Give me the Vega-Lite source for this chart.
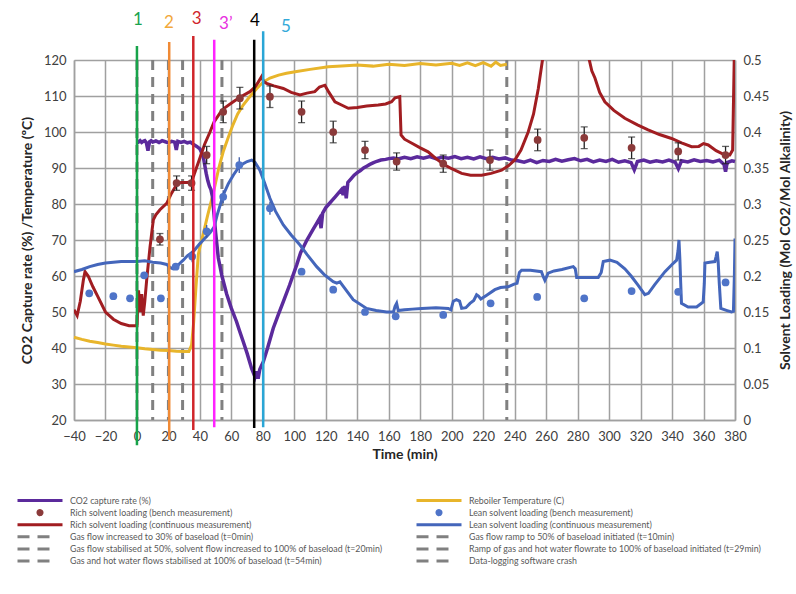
{
  "$schema": "https://vega.github.io/schema/vega-lite/v6.json",
  "autosize": {"type": "none"},
  "width": 661,
  "height": 360,
  "padding": {"left": 74, "top": 60, "right": 61, "bottom": 174},
  "background": "white",
  "config": {
    "font": "Lato",
    "view": {"stroke": null},
    "axis": {"labelFont": "Lato", "labelFontSize": 13, "labelColor": "#404040", "titleFont": "Lato", "titleFontSize": 14, "titleFontWeight": "bold", "titleColor": "#262626", "gridColor": "#a0a0a0", "gridWidth": 1.5, "gridOpacity": 1, "domainColor": "#a0a0a0", "domainWidth": 1.5, "ticks": false, "labelPadding": 8, "labelFlush": false, "labelOverlap": false, "labelBound": false}
  },
  "datasets": {
    "events": [
      {"t": 0, "s": "Gas flow increased to 30% of baseload (t=0min)"},
      {"t": 10, "s": "Gas flow ramp to 50% of baseload initiated (t=10min)"},
      {"t": 20, "s": "Gas flow stabilised at 50%, solvent flow increased to 100% of baseload (t=20min)"},
      {"t": 29, "s": "Ramp of gas and hot water flowrate to 100% of baseload initiated (t=29min)"},
      {"t": 54, "s": "Gas and hot water flows stabilised at 100% of baseload (t=54min)"},
      {"t": 235, "s": "Data-logging software crash"}
    ],
    "reb": [
      {"t": -40, "v": 43}, {"t": -35, "v": 42.4}, {"t": -30, "v": 41.9}, {"t": -25, "v": 41.5}, {"t": -20, "v": 41.1}, {"t": -15, "v": 40.8}, {"t": -10, "v": 40.5}, {"t": -5, "v": 40.3}, {"t": 0, "v": 40.1}, {"t": 5, "v": 39.8}, {"t": 10, "v": 39.6}, {"t": 15, "v": 39.4}, {"t": 20, "v": 39.3}, {"t": 25, "v": 39.1}, {"t": 30, "v": 39.0}, {"t": 33, "v": 39.0}, {"t": 34.7, "v": 40.8}, {"t": 36, "v": 47}, {"t": 37.5, "v": 57}, {"t": 39, "v": 66}, {"t": 40, "v": 68}, {"t": 42, "v": 71.5}, {"t": 45, "v": 77}, {"t": 48.5, "v": 83}, {"t": 52, "v": 90}, {"t": 54.8, "v": 94.5}, {"t": 58, "v": 98.5}, {"t": 61, "v": 102}, {"t": 64, "v": 105}, {"t": 67.5, "v": 107.5}, {"t": 72, "v": 110}, {"t": 76, "v": 112}, {"t": 80, "v": 113.8}, {"t": 84.5, "v": 115}, {"t": 90, "v": 115.8}, {"t": 95, "v": 116.3}, {"t": 101.5, "v": 116.8}, {"t": 110, "v": 117.4}, {"t": 121.6, "v": 118.1}, {"t": 130, "v": 118.3}, {"t": 140, "v": 118.6}, {"t": 150, "v": 118.3}, {"t": 160, "v": 118.8}, {"t": 170, "v": 118.5}, {"t": 180, "v": 119}, {"t": 190, "v": 118.6}, {"t": 200, "v": 119.1}, {"t": 205, "v": 118.5}, {"t": 210, "v": 119.2}, {"t": 215, "v": 118.4}, {"t": 220, "v": 119.3}, {"t": 225, "v": 118.3}, {"t": 228, "v": 119.4}, {"t": 231, "v": 118.5}, {"t": 235, "v": 118.8}
    ],
    "co2": [
      {"t": 0, "v": 97.5}, {"t": 1, "v": 97.2}, {"t": 2, "v": 97.6}, {"t": 3, "v": 97.1}, {"t": 4, "v": 97.4}, {"t": 5, "v": 97.6}, {"t": 6, "v": 97.0}, {"t": 7, "v": 94.8}, {"t": 8, "v": 97.3}, {"t": 9, "v": 97.6}, {"t": 10, "v": 97.2}, {"t": 12, "v": 97.5}, {"t": 14, "v": 97.1}, {"t": 16, "v": 97.6}, {"t": 18, "v": 97.3}, {"t": 20, "v": 97.0}, {"t": 22, "v": 97.4}, {"t": 24, "v": 97.2}, {"t": 25, "v": 95.0}, {"t": 26, "v": 97.4}, {"t": 28, "v": 97.1}, {"t": 30, "v": 97.4}, {"t": 32, "v": 97.0}, {"t": 34, "v": 97.2}, {"t": 36, "v": 96.5}, {"t": 38, "v": 96.0}, {"t": 40, "v": 95.3}, {"t": 42, "v": 93.5}, {"t": 43, "v": 91}, {"t": 44, "v": 88.5}, {"t": 45, "v": 86.5}, {"t": 46, "v": 85}, {"t": 47, "v": 84}, {"t": 48, "v": 82}, {"t": 49, "v": 77}, {"t": 50, "v": 72}, {"t": 51.7, "v": 65}, {"t": 54, "v": 60}, {"t": 57, "v": 55}, {"t": 60, "v": 51}, {"t": 63.3, "v": 47.3}, {"t": 65, "v": 45}, {"t": 67.5, "v": 41.8}, {"t": 70, "v": 38.5}, {"t": 72.8, "v": 34.4}, {"t": 75, "v": 32}, {"t": 76, "v": 33.5}, {"t": 77, "v": 31.5}, {"t": 78, "v": 34}, {"t": 80.3, "v": 36.2}, {"t": 83, "v": 40}, {"t": 86.6, "v": 45.5}, {"t": 90, "v": 49.5}, {"t": 93, "v": 52.9}, {"t": 97, "v": 57.5}, {"t": 101.5, "v": 63.1}, {"t": 104, "v": 66.5}, {"t": 108, "v": 70}, {"t": 110, "v": 71.5}, {"t": 112, "v": 73}, {"t": 114, "v": 74.5}, {"t": 116, "v": 76}, {"t": 117, "v": 73.3}, {"t": 118, "v": 77.5}, {"t": 120, "v": 79}, {"t": 122, "v": 80}, {"t": 124, "v": 81}, {"t": 126, "v": 82}, {"t": 128, "v": 83}, {"t": 130, "v": 84}, {"t": 131, "v": 82.5}, {"t": 132, "v": 85}, {"t": 133, "v": 81.6}, {"t": 134, "v": 86}, {"t": 136, "v": 87}, {"t": 138, "v": 88}, {"t": 140, "v": 88.7}, {"t": 142, "v": 89.3}, {"t": 144, "v": 90}, {"t": 146, "v": 90.5}, {"t": 148, "v": 91}, {"t": 150, "v": 91.4}, {"t": 152, "v": 91.8}, {"t": 155, "v": 92.2}, {"t": 158, "v": 92.4}, {"t": 160, "v": 92.6}, {"t": 163, "v": 92.8}, {"t": 166, "v": 92.5}, {"t": 170, "v": 93.0}, {"t": 174, "v": 92.6}, {"t": 178, "v": 93.1}, {"t": 182, "v": 92.7}, {"t": 186, "v": 93.2}, {"t": 190, "v": 92.6}, {"t": 194, "v": 93.0}, {"t": 198, "v": 92.7}, {"t": 202, "v": 93.2}, {"t": 206, "v": 92.6}, {"t": 210, "v": 93.0}, {"t": 214, "v": 92.5}, {"t": 218, "v": 93.1}, {"t": 222, "v": 92.6}, {"t": 226, "v": 93.0}, {"t": 230, "v": 92.5}, {"t": 234, "v": 92.8}, {"t": 238, "v": 92.2}, {"t": 242, "v": 92.0}, {"t": 246, "v": 91.6}, {"t": 250, "v": 92.2}, {"t": 254, "v": 91.5}, {"t": 258, "v": 92.1}, {"t": 262, "v": 91.8}, {"t": 266, "v": 92.4}, {"t": 270, "v": 91.9}, {"t": 274, "v": 92.3}, {"t": 278, "v": 92.6}, {"t": 282, "v": 92.0}, {"t": 286, "v": 92.4}, {"t": 290, "v": 91.7}, {"t": 294, "v": 92.2}, {"t": 298, "v": 91.8}, {"t": 302, "v": 92.4}, {"t": 306, "v": 91.6}, {"t": 310, "v": 92.0}, {"t": 314, "v": 91.5}, {"t": 316, "v": 89.5}, {"t": 318, "v": 91.8}, {"t": 322, "v": 92.2}, {"t": 326, "v": 91.6}, {"t": 330, "v": 92.0}, {"t": 334, "v": 91.7}, {"t": 338, "v": 92.2}, {"t": 342, "v": 91.6}, {"t": 344, "v": 89.8}, {"t": 346, "v": 92.0}, {"t": 350, "v": 91.7}, {"t": 354, "v": 92.3}, {"t": 358, "v": 91.8}, {"t": 362, "v": 92.1}, {"t": 366, "v": 91.7}, {"t": 370, "v": 92.2}, {"t": 373, "v": 91.0}, {"t": 374, "v": 89.0}, {"t": 375, "v": 91.5}, {"t": 378, "v": 92.0}, {"t": 380, "v": 91.8}
    ],
    "richc": [
      {"t": -40, "L": 0.153}, {"t": -38, "L": 0.145}, {"t": -36, "L": 0.165}, {"t": -34, "L": 0.195}, {"t": -33, "L": 0.206}, {"t": -31, "L": 0.2}, {"t": -28, "L": 0.185}, {"t": -25, "L": 0.172}, {"t": -20, "L": 0.15}, {"t": -15, "L": 0.14}, {"t": -10, "L": 0.134}, {"t": -5, "L": 0.131}, {"t": 0, "L": 0.131}, {"t": 0.5, "L": 0.16}, {"t": 1, "L": 0.18}, {"t": 2, "L": 0.15}, {"t": 3, "L": 0.175}, {"t": 4, "L": 0.145}, {"t": 5, "L": 0.165}, {"t": 6.2, "L": 0.195}, {"t": 8.3, "L": 0.24}, {"t": 10.4, "L": 0.278}, {"t": 12, "L": 0.285}, {"t": 14.6, "L": 0.292}, {"t": 18.9, "L": 0.301}, {"t": 22, "L": 0.315}, {"t": 25.2, "L": 0.327}, {"t": 28, "L": 0.33}, {"t": 32, "L": 0.33}, {"t": 34.7, "L": 0.331}, {"t": 37, "L": 0.345}, {"t": 40, "L": 0.364}, {"t": 43, "L": 0.383}, {"t": 46.4, "L": 0.4}, {"t": 49, "L": 0.414}, {"t": 52.7, "L": 0.426}, {"t": 56, "L": 0.434}, {"t": 61.2, "L": 0.442}, {"t": 66, "L": 0.449}, {"t": 71.8, "L": 0.456}, {"t": 75, "L": 0.4625}, {"t": 77, "L": 0.469}, {"t": 79.2, "L": 0.477}, {"t": 80.5, "L": 0.47}, {"t": 82.4, "L": 0.4675}, {"t": 87, "L": 0.464}, {"t": 93, "L": 0.4605}, {"t": 98, "L": 0.455}, {"t": 103.6, "L": 0.4515}, {"t": 108, "L": 0.454}, {"t": 113, "L": 0.456}, {"t": 116, "L": 0.4625}, {"t": 119.4, "L": 0.465}, {"t": 122, "L": 0.455}, {"t": 125.8, "L": 0.442}, {"t": 130, "L": 0.4375}, {"t": 134.3, "L": 0.433}, {"t": 140, "L": 0.434}, {"t": 146, "L": 0.436}, {"t": 153.3, "L": 0.4375}, {"t": 158, "L": 0.439}, {"t": 161.8, "L": 0.442}, {"t": 164, "L": 0.4475}, {"t": 167, "L": 0.449}, {"t": 167.8, "L": 0.396}, {"t": 170, "L": 0.39}, {"t": 175, "L": 0.384}, {"t": 180, "L": 0.378}, {"t": 185, "L": 0.3725}, {"t": 190, "L": 0.363}, {"t": 195.7, "L": 0.354}, {"t": 200, "L": 0.349}, {"t": 206.3, "L": 0.3425}, {"t": 212, "L": 0.34}, {"t": 219, "L": 0.34}, {"t": 225, "L": 0.3425}, {"t": 231.7, "L": 0.347}, {"t": 236, "L": 0.353}, {"t": 240.2, "L": 0.3615}, {"t": 244, "L": 0.375}, {"t": 248.6, "L": 0.4}, {"t": 252, "L": 0.425}, {"t": 255, "L": 0.46}, {"t": 258, "L": 0.505}, {"t": 261, "L": 0.55}, {"t": 265, "L": 0.58}, {"t": 275, "L": 0.6}, {"t": 282, "L": 0.58}, {"t": 286.7, "L": 0.507}, {"t": 289, "L": 0.485}, {"t": 291, "L": 0.475}, {"t": 294, "L": 0.455}, {"t": 297.3, "L": 0.442}, {"t": 303, "L": 0.43}, {"t": 310, "L": 0.419}, {"t": 318, "L": 0.41}, {"t": 324.8, "L": 0.403}, {"t": 332, "L": 0.3965}, {"t": 339.7, "L": 0.391}, {"t": 346, "L": 0.385}, {"t": 352.4, "L": 0.3795}, {"t": 357, "L": 0.38}, {"t": 360, "L": 0.384}, {"t": 363, "L": 0.382}, {"t": 368, "L": 0.374}, {"t": 373.6, "L": 0.368}, {"t": 376.7, "L": 0.368}, {"t": 378.5, "L": 0.375}, {"t": 379.5, "L": 0.5}, {"t": 380, "L": 0.55}
    ],
    "leanc": [
      {"t": -40, "L": 0.206}, {"t": -35, "L": 0.209}, {"t": -30, "L": 0.213}, {"t": -25, "L": 0.216}, {"t": -20, "L": 0.218}, {"t": -10, "L": 0.22}, {"t": 0, "L": 0.22}, {"t": 5, "L": 0.221}, {"t": 10, "L": 0.219}, {"t": 15, "L": 0.218}, {"t": 18.9, "L": 0.216}, {"t": 21, "L": 0.212}, {"t": 23, "L": 0.21}, {"t": 25, "L": 0.212}, {"t": 27, "L": 0.217}, {"t": 29.4, "L": 0.222}, {"t": 32, "L": 0.228}, {"t": 35.8, "L": 0.234}, {"t": 40, "L": 0.245}, {"t": 43, "L": 0.252}, {"t": 46.4, "L": 0.26}, {"t": 49, "L": 0.268}, {"t": 51, "L": 0.285}, {"t": 54.8, "L": 0.3125}, {"t": 58, "L": 0.328}, {"t": 61.2, "L": 0.34}, {"t": 64, "L": 0.349}, {"t": 67.5, "L": 0.356}, {"t": 70, "L": 0.359}, {"t": 72.9, "L": 0.361}, {"t": 75, "L": 0.358}, {"t": 78.1, "L": 0.347}, {"t": 81, "L": 0.33}, {"t": 84.5, "L": 0.308}, {"t": 88, "L": 0.29}, {"t": 93, "L": 0.271}, {"t": 98, "L": 0.257}, {"t": 103.6, "L": 0.243}, {"t": 108, "L": 0.23}, {"t": 114.2, "L": 0.213}, {"t": 119, "L": 0.202}, {"t": 124.7, "L": 0.192}, {"t": 127, "L": 0.19}, {"t": 129, "L": 0.192}, {"t": 131, "L": 0.186}, {"t": 137.4, "L": 0.167}, {"t": 145.9, "L": 0.155}, {"t": 152, "L": 0.152}, {"t": 158.6, "L": 0.15}, {"t": 163, "L": 0.15}, {"t": 164, "L": 0.158}, {"t": 165, "L": 0.162}, {"t": 166, "L": 0.152}, {"t": 170, "L": 0.153}, {"t": 175, "L": 0.154}, {"t": 180.9, "L": 0.155}, {"t": 190, "L": 0.156}, {"t": 197.8, "L": 0.155}, {"t": 199.5, "L": 0.153}, {"t": 201, "L": 0.165}, {"t": 203, "L": 0.167}, {"t": 205, "L": 0.165}, {"t": 206.3, "L": 0.155}, {"t": 209, "L": 0.156}, {"t": 211.6, "L": 0.162}, {"t": 214, "L": 0.166}, {"t": 215.8, "L": 0.174}, {"t": 217, "L": 0.172}, {"t": 218.5, "L": 0.168}, {"t": 222, "L": 0.173}, {"t": 227.4, "L": 0.181}, {"t": 231, "L": 0.184}, {"t": 235.9, "L": 0.185}, {"t": 240, "L": 0.189}, {"t": 241.5, "L": 0.19}, {"t": 243, "L": 0.205}, {"t": 244.4, "L": 0.208}, {"t": 250, "L": 0.208}, {"t": 257, "L": 0.206}, {"t": 258, "L": 0.2}, {"t": 259.2, "L": 0.194}, {"t": 261.3, "L": 0.204}, {"t": 265, "L": 0.207}, {"t": 270, "L": 0.209}, {"t": 277.2, "L": 0.213}, {"t": 278.5, "L": 0.21}, {"t": 279.4, "L": 0.198}, {"t": 285, "L": 0.198}, {"t": 293.1, "L": 0.198}, {"t": 295, "L": 0.205}, {"t": 296.3, "L": 0.22}, {"t": 300.5, "L": 0.222}, {"t": 305, "L": 0.219}, {"t": 310, "L": 0.21}, {"t": 314, "L": 0.2}, {"t": 318.5, "L": 0.187}, {"t": 322.7, "L": 0.174}, {"t": 325, "L": 0.176}, {"t": 329, "L": 0.188}, {"t": 335.5, "L": 0.206}, {"t": 340, "L": 0.216}, {"t": 342.9, "L": 0.222}, {"t": 343.8, "L": 0.235}, {"t": 344.4, "L": 0.25}, {"t": 345, "L": 0.222}, {"t": 345.5, "L": 0.19}, {"t": 346, "L": 0.162}, {"t": 350.2, "L": 0.157}, {"t": 355.6, "L": 0.157}, {"t": 359.8, "L": 0.164}, {"t": 360.5, "L": 0.19}, {"t": 360.9, "L": 0.218}, {"t": 364, "L": 0.219}, {"t": 367.2, "L": 0.22}, {"t": 368, "L": 0.227}, {"t": 368.7, "L": 0.234}, {"t": 369.3, "L": 0.22}, {"t": 370, "L": 0.19}, {"t": 371, "L": 0.155}, {"t": 375, "L": 0.152}, {"t": 377.8, "L": 0.15}, {"t": 379, "L": 0.151}, {"t": 379.6, "L": 0.2}, {"t": 380, "L": 0.252}
    ],
    "richb": [
      {"t": 14.6, "L": 0.251, "lo": 0.243, "hi": 0.259}, {"t": 25.2, "L": 0.329, "lo": 0.319, "hi": 0.339}, {"t": 34.7, "L": 0.329, "lo": 0.319, "hi": 0.339}, {"t": 44.3, "L": 0.368, "lo": 0.356, "hi": 0.38}, {"t": 54.8, "L": 0.428, "lo": 0.413, "hi": 0.443}, {"t": 65.4, "L": 0.447, "lo": 0.432, "hi": 0.462}, {"t": 84.5, "L": 0.449, "lo": 0.434, "hi": 0.464}, {"t": 104.6, "L": 0.428, "lo": 0.413, "hi": 0.443}, {"t": 124.7, "L": 0.4, "lo": 0.385, "hi": 0.415}, {"t": 144.9, "L": 0.375, "lo": 0.363, "hi": 0.387}, {"t": 165, "L": 0.359, "lo": 0.347, "hi": 0.371}, {"t": 194.6, "L": 0.356, "lo": 0.344, "hi": 0.368}, {"t": 224.3, "L": 0.361, "lo": 0.347, "hi": 0.375}, {"t": 254.6, "L": 0.389, "lo": 0.374, "hi": 0.404}, {"t": 284.2, "L": 0.392, "lo": 0.377, "hi": 0.407}, {"t": 314.3, "L": 0.378, "lo": 0.363, "hi": 0.393}, {"t": 343.9, "L": 0.373, "lo": 0.361, "hi": 0.385}, {"t": 374, "L": 0.368, "lo": 0.356, "hi": 0.38}
    ],
    "leanb": [
      {"t": -30.3, "L": 0.176}, {"t": -15, "L": 0.172}, {"t": -4.4, "L": 0.169}, {"t": 4.6, "L": 0.201}, {"t": 15.2, "L": 0.169}, {"t": 24.6, "L": 0.213}, {"t": 35.1, "L": 0.227}, {"t": 44.3, "L": 0.262}, {"t": 54.8, "L": 0.31}, {"t": 65, "L": 0.354}, {"t": 84.5, "L": 0.294}, {"t": 104.6, "L": 0.206}, {"t": 124.7, "L": 0.181}, {"t": 144.9, "L": 0.15}, {"t": 164.4, "L": 0.144}, {"t": 194.6, "L": 0.146}, {"t": 224.7, "L": 0.162}, {"t": 254.3, "L": 0.171}, {"t": 284.2, "L": 0.169}, {"t": 314.3, "L": 0.179}, {"t": 343.9, "L": 0.178}, {"t": 374, "L": 0.191}
    ],
    "leanerr": [
      {"t": 35.1, "lo": 0.219, "hi": 0.235}, {"t": 44.3, "lo": 0.253, "hi": 0.271}, {"t": 54.8, "lo": 0.301, "hi": 0.319}, {"t": 65, "lo": 0.343, "hi": 0.365}, {"t": 84.5, "lo": 0.285, "hi": 0.303}
    ],
    "numbered": [
      {"label": "1", "t": 0, "y1": 13, "y2": 123.9, "tx": 0.6, "ty": 131.1},
      {"label": "2", "t": 20.5, "y1": 14.5, "y2": 125, "tx": 20.3, "ty": 130.3},
      {"label": "3", "t": 35.8, "y1": 17.2, "y2": 126.7, "tx": 38, "ty": 131.4},
      {"label": "3’", "t": 49.1, "y1": 18, "y2": 125.6, "tx": 56.5, "ty": 130},
      {"label": "4", "t": 74.5, "y1": 17.8, "y2": 125.6, "tx": 75, "ty": 130.8},
      {"label": "5", "t": 80.2, "y1": 18, "y2": 128, "tx": 94.7, "ty": 129.2}
    ]
  },
  "layer": [
    {
      "layer": [
        {
          "data": {"name": "events"},
          "mark": {"type": "rule", "strokeDash": [10, 7], "strokeWidth": 3},
          "encoding": {
            "x": {"field": "t", "type": "quantitative", "title": "Time (min)", "scale": {"domain": [-40, 380], "nice": false, "zero": false}, "axis": {"values": [-40, -20, 0, 20, 40, 60, 80, 100, 120, 140, 160, 180, 200, 220, 240, 260, 280, 300, 320, 340, 360, 380], "tickCount": 30, "grid": true, "labelPadding": 10, "titlePadding": 4}},
            "color": {
              "field": "s", "type": "nominal",
              "scale": {
                "domain": ["CO2 capture rate (%)", "Rich solvent loading (bench measurement)", "Rich solvent loading (continuous measurement)", "Gas flow increased to 30% of baseload (t=0min)", "Gas flow stabilised at 50%, solvent flow increased to 100% of baseload (t=20min)", "Gas and hot water flows stabilised at 100% of baseload (t=54min)", "Reboiler Temperature (C)", "Lean solvent loading (bench measurement)", "Lean solvent loading (continuous measurement)", "Gas flow ramp to 50% of baseload initiated (t=10min)", "Ramp of gas and hot water flowrate to 100% of baseload initiated (t=29min)", "Data-logging software crash"],
                "range": ["#5b2a9c", "#8b3a3a", "#a11d21", "#808080", "#808080", "#808080", "#e8b52b", "#4f74c8", "#4466bb", "#808080", "#808080", "#808080"]
              },
              "legend": {
                "title": null, "orient": "none", "legendX": -58, "legendY": 435, "columns": 2, "padding": 0,
                "symbolType": "stroke", "symbolSize": 2025, "symbolStrokeWidth": 3, "symbolOffset": 0,
                "labelFont": "Lato", "labelFontSize": 8.8, "labelColor": "#595959", "labelLimit": 420, "labelOffset": 6,
                "columnPadding": 32, "rowPadding": 1.1, "clipHeight": 11,
                "encode": {
                  "symbols": {
                    "update": {
                      "shape": [{"test": "indexof(datum.value,'bench')>=0", "value": "M-0.09,0A0.09,0.09,0,1,1,0.09,0A0.09,0.09,0,1,1,-0.09,0Z"}, {"value": "stroke"}],
                      "strokeDash": [{"test": "indexof(datum.value,'(t=')>=0 || indexof(datum.value,'crash')>=0", "value": [12, 8, 12, 100]}, {"value": [1, 0]}]
                    }
                  }
                }
              }
            }
          }
        },
        {
          "data": {"name": "reb"},
          "mark": {"type": "line", "strokeWidth": 3},
          "encoding": {
            "x": {"field": "t", "type": "quantitative", "title": "Time (min)"},
            "y": {"field": "v", "type": "quantitative", "title": "CO2 Capture rate (%) /Temperature (ºC)", "scale": {"domain": [20, 120], "nice": false, "zero": false}, "axis": {"orient": "left", "values": [20, 30, 40, 50, 60, 70, 80, 90, 100, 110, 120], "tickCount": 20, "grid": true, "titlePadding": 9}},
            "color": {"datum": "Reboiler Temperature (C)", "type": "nominal"}
          }
        },
        {
          "data": {"name": "co2"},
          "mark": {"type": "line", "strokeWidth": 3.5},
          "encoding": {
            "x": {"field": "t", "type": "quantitative", "title": "Time (min)"},
            "y": {"field": "v", "type": "quantitative", "title": "CO2 Capture rate (%) /Temperature (ºC)"},
            "color": {"datum": "CO2 capture rate (%)", "type": "nominal"}
          }
        }
      ]
    },
    {
      "layer": [
        {
          "data": {"name": "richc"},
          "mark": {"type": "line", "strokeWidth": 3, "clip": true},
          "encoding": {
            "x": {"field": "t", "type": "quantitative", "title": "Time (min)"},
            "y": {"field": "L", "type": "quantitative", "title": "Solvent Loading (Mol CO2/Mol Alkalinity)", "scale": {"domain": [0, 0.5], "nice": false, "zero": false}, "axis": {"orient": "right", "values": [0, 0.05, 0.1, 0.15, 0.2, 0.25, 0.3, 0.35, 0.4, 0.45, 0.5], "tickCount": 20, "format": ".2~f", "grid": false, "titleAngle": 270, "titleBaseline": "top", "titlePadding": 10}},
            "color": {"datum": "Rich solvent loading (continuous measurement)", "type": "nominal"}
          }
        },
        {
          "data": {"name": "leanc"},
          "mark": {"type": "line", "strokeWidth": 3, "clip": true},
          "encoding": {
            "x": {"field": "t", "type": "quantitative", "title": "Time (min)"},
            "y": {"field": "L", "type": "quantitative", "title": "Solvent Loading (Mol CO2/Mol Alkalinity)"},
            "color": {"datum": "Lean solvent loading (continuous measurement)", "type": "nominal"}
          }
        },
        {
          "data": {"name": "richb"},
          "mark": {"type": "rule", "strokeWidth": 1.3, "color": "#222222"},
          "encoding": {
            "x": {"field": "t", "type": "quantitative", "title": "Time (min)"},
            "y": {"field": "lo", "type": "quantitative", "title": "Solvent Loading (Mol CO2/Mol Alkalinity)"},
            "y2": {"field": "hi"}
          }
        },
        {
          "data": {"name": "richb"},
          "mark": {"type": "tick", "orient": "horizontal", "size": 7, "thickness": 1.3, "color": "#222222"},
          "encoding": {
            "x": {"field": "t", "type": "quantitative", "title": "Time (min)"},
            "y": {"field": "hi", "type": "quantitative", "title": "Solvent Loading (Mol CO2/Mol Alkalinity)"}
          }
        },
        {
          "data": {"name": "richb"},
          "mark": {"type": "tick", "orient": "horizontal", "size": 7, "thickness": 1.3, "color": "#222222"},
          "encoding": {
            "x": {"field": "t", "type": "quantitative", "title": "Time (min)"},
            "y": {"field": "lo", "type": "quantitative", "title": "Solvent Loading (Mol CO2/Mol Alkalinity)"}
          }
        },
        {
          "data": {"name": "leanerr"},
          "mark": {"type": "rule", "strokeWidth": 1.3, "color": "#3b5aa5"},
          "encoding": {
            "x": {"field": "t", "type": "quantitative", "title": "Time (min)"},
            "y": {"field": "lo", "type": "quantitative", "title": "Solvent Loading (Mol CO2/Mol Alkalinity)"},
            "y2": {"field": "hi"}
          }
        },
        {
          "data": {"name": "richb"},
          "mark": {"type": "point", "filled": true, "size": 60, "opacity": 1},
          "encoding": {
            "x": {"field": "t", "type": "quantitative", "title": "Time (min)"},
            "y": {"field": "L", "type": "quantitative", "title": "Solvent Loading (Mol CO2/Mol Alkalinity)"},
            "color": {"datum": "Rich solvent loading (bench measurement)", "type": "nominal"}
          }
        },
        {
          "data": {"name": "leanb"},
          "mark": {"type": "point", "filled": true, "size": 60, "opacity": 1},
          "encoding": {
            "x": {"field": "t", "type": "quantitative", "title": "Time (min)"},
            "y": {"field": "L", "type": "quantitative", "title": "Solvent Loading (Mol CO2/Mol Alkalinity)"},
            "color": {"datum": "Lean solvent loading (bench measurement)", "type": "nominal"}
          }
        }
      ]
    },
    {
      "data": {"name": "numbered"},
      "layer": [
        {
          "mark": {"type": "rule", "strokeWidth": 2.5},
          "encoding": {
            "x": {"field": "t", "type": "quantitative", "title": "Time (min)"},
            "y": {"field": "y1", "type": "quantitative", "scale": {"domain": [20, 120], "nice": false, "zero": false}, "axis": null},
            "y2": {"field": "y2"},
            "stroke": {"field": "label", "type": "nominal", "scale": {"domain": ["1", "2", "3", "3’", "4", "5"], "range": ["#17a34a", "#f08a35", "#d0252a", "#ff22ff", "#000000", "#2aa6d6"]}, "legend": null}
          }
        },
        {
          "mark": {"type": "text", "fontSize": 17, "font": "Lato"},
          "encoding": {
            "x": {"field": "tx", "type": "quantitative", "title": "Time (min)"},
            "y": {"field": "ty", "type": "quantitative", "axis": null},
            "text": {"field": "label"},
            "fill": {"field": "label", "type": "nominal", "scale": {"domain": ["1", "2", "3", "3’", "4", "5"], "range": ["#1aa34e", "#f2a83a", "#d0252a", "#e830e0", "#000000", "#33a9d9"]}, "legend": null}
          }
        }
      ]
    }
  ],
  "resolve": {"scale": {"y": "independent"}}
}
